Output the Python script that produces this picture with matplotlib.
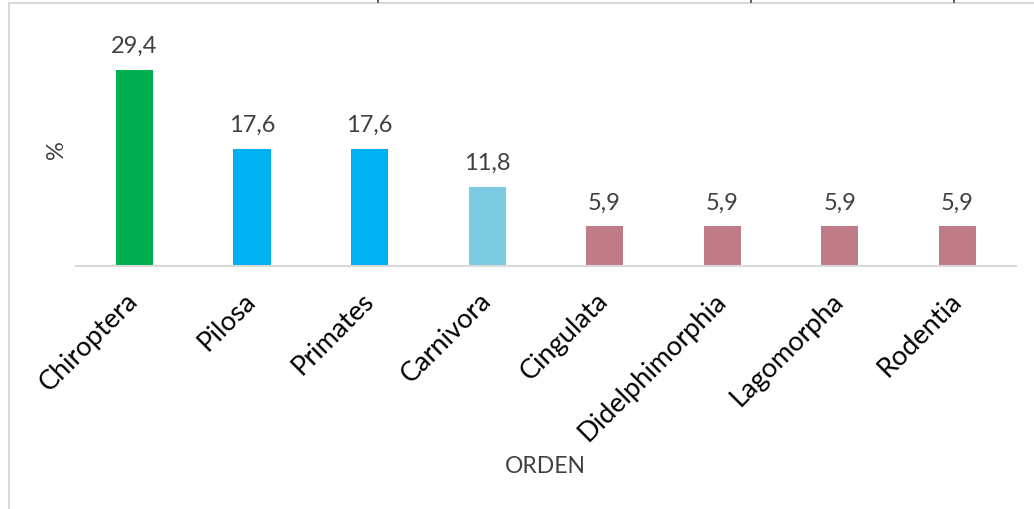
import matplotlib
matplotlib.use("Agg")
import matplotlib.pyplot as plt
from matplotlib.lines import Line2D

orders = ["Chiroptera", "Pilosa", "Primates", "Carnivora", "Cingulata",
          "Didelphimorphia", "Lagomorpha", "Rodentia"]
percent = [29.4, 17.6, 17.6, 11.8, 5.9, 5.9, 5.9, 5.9]
bar_colors = ["#00B050", "#00B0F0", "#00B0F0", "#7BCCE1",
              "#C07B89", "#C07B89", "#C07B89", "#C07B89"]

W, H = 1034, 510
fig = plt.figure(figsize=(W / 100, H / 100), dpi=100)
base, top = 266.5, 34.0
ax = fig.add_axes([75.7 / W, 1 - base / H, (1016 - 75.7) / W, (base - top) / H])

x = range(len(orders))
ax.bar(x, percent, width=0.315, color=bar_colors, zorder=2)
ax.set_xlim(-0.5, len(orders) - 0.5)
ax.set_ylim(0, 35)

for xi, v in zip(x, percent):
    ax.annotate(f"{v:.1f}".replace(".", ","), (xi, v), xytext=(0, 10),
                textcoords="offset points", ha="center", va="bottom",
                fontsize=17, color="#404040", family="Lato")

for s in ["top", "right", "left"]:
    ax.spines[s].set_visible(False)
ax.spines["bottom"].set_color("#D9D9D9")
ax.spines["bottom"].set_linewidth(1.5)
ax.set_yticks([])
ax.set_xticks(list(x))
ax.set_xticklabels(orders, rotation=45, ha="right", va="center",
                   rotation_mode="anchor", fontsize=19.5, family="Lato",
                   color="#000000")
ax.tick_params(axis="x", length=0, pad=22)

fig.text(57 / W, 1 - 150 / H, "%", rotation=90, ha="center", va="center",
         fontsize=17, family="Lato", color="#404040")
fig.text(545 / W, 1 - 467 / H, "ORDEN", ha="center", va="center",
         fontsize=16.5, family="Lato", color="#404040")

# outer frame of the chart area
fig.add_artist(Line2D([8.5 / W, 1], [1 - 3.5 / H, 1 - 3.5 / H],
                      color="#D9D9D9", lw=1.5, transform=fig.transFigure))
fig.add_artist(Line2D([8.5 / W, 8.5 / W], [0, 1 - 3.5 / H],
                      color="#D9D9D9", lw=1.5, transform=fig.transFigure))
for px in (378, 751, 954):
    fig.add_artist(Line2D([px / W, px / W], [1 - 3 / H, 1],
                          color="#404040", lw=1.2, transform=fig.transFigure))

fig.savefig("out.png", dpi=100, facecolor="white")
